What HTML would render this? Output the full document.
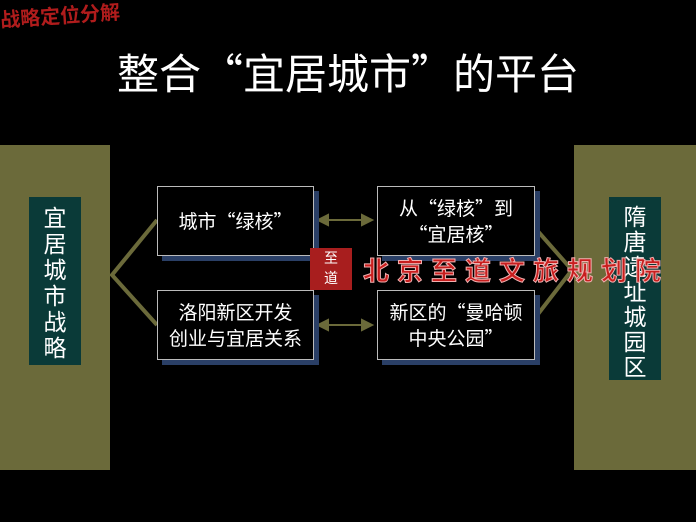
<!DOCTYPE html>
<html><head><meta charset="utf-8"><style>
body{margin:0;width:696px;height:522px;background:#000;position:relative;overflow:hidden;font-family:"Noto Sans CJK SC","Liberation Sans",sans-serif;}
.a{position:absolute;}
.panel{background:#6b6a3a;}
.teal{background:#0a3a38;color:#fff;font-size:23px;line-height:25px;text-align:center;}
.box{background:#000;border:1px solid #bbb;color:#fff;font-size:19px;line-height:26px;box-shadow:5px 5px 0 #2a3f66;display:flex;align-items:center;justify-content:center;text-align:center;box-sizing:border-box;white-space:nowrap;}
</style></head><body>
<div class="a" style="left:0;top:0px;color:#b01c1c;font-size:20px;font-weight:bold;transform:rotate(-4deg);">战略定位分解</div>
<div class="a" style="left:0;width:696px;top:44px;text-align:center;color:#fff;font-size:42px;line-height:56px;white-space:nowrap">整合“宜居城市”的平台</div>
<div class="a panel" style="left:0;top:145px;width:110px;height:325px"></div>
<div class="a teal" style="left:29px;top:197px;width:52px;height:168px;padding-top:6px;box-sizing:border-box;line-height:26px">宜<br>居<br>城<br>市<br>战<br>略</div>
<div class="a panel" style="left:574px;top:145px;width:122px;height:325px"></div>
<div class="a teal" style="left:609px;top:197px;width:52px;height:183px;padding-top:6px;box-sizing:border-box">隋<br>唐<br>遗<br>址<br>城<br>园<br>区</div>
<svg class="a" style="left:0;top:0" width="696" height="522">
<g stroke="#6b6a3a" stroke-width="4" fill="none">
<polyline points="157,220 112,275 157,325"/>
<polyline points="535,228 572,270 535,318"/>
</g>
<g stroke="#6b6a3a" stroke-width="2" fill="#6b6a3a">
<line x1="324" y1="220" x2="366" y2="220"/><polygon points="318,220 328,215 328,225"/><polygon points="372,220 362,215 362,225"/>
<line x1="324" y1="325" x2="366" y2="325"/><polygon points="318,325 328,320 328,330"/><polygon points="372,325 362,320 362,330"/>
</g>
</svg>
<div class="a box" style="left:157px;top:186px;width:157px;height:70px">城市“绿核”</div>
<div class="a box" style="left:157px;top:290px;width:157px;height:70px">洛阳新区开发<br>创业与宜居关系</div>
<div class="a box" style="left:377px;top:186px;width:158px;height:70px">从“绿核”到<br>“宜居核”</div>
<div class="a box" style="left:377px;top:290px;width:158px;height:70px">新区的“曼哈顿<br>中央公园”</div>
<div class="a" style="left:310px;top:248px;width:42px;height:42px;background:#a81e1e;color:#fff;font-size:14px;line-height:20px;text-align:center">至<br>道</div>
<div class="a" style="left:363px;top:253px;color:#c81e1e;font-size:26px;line-height:34px;font-weight:bold;letter-spacing:8px;-webkit-text-stroke:1px #f0b0b0;white-space:nowrap">北京至道文旅规划院</div>
</body></html>
